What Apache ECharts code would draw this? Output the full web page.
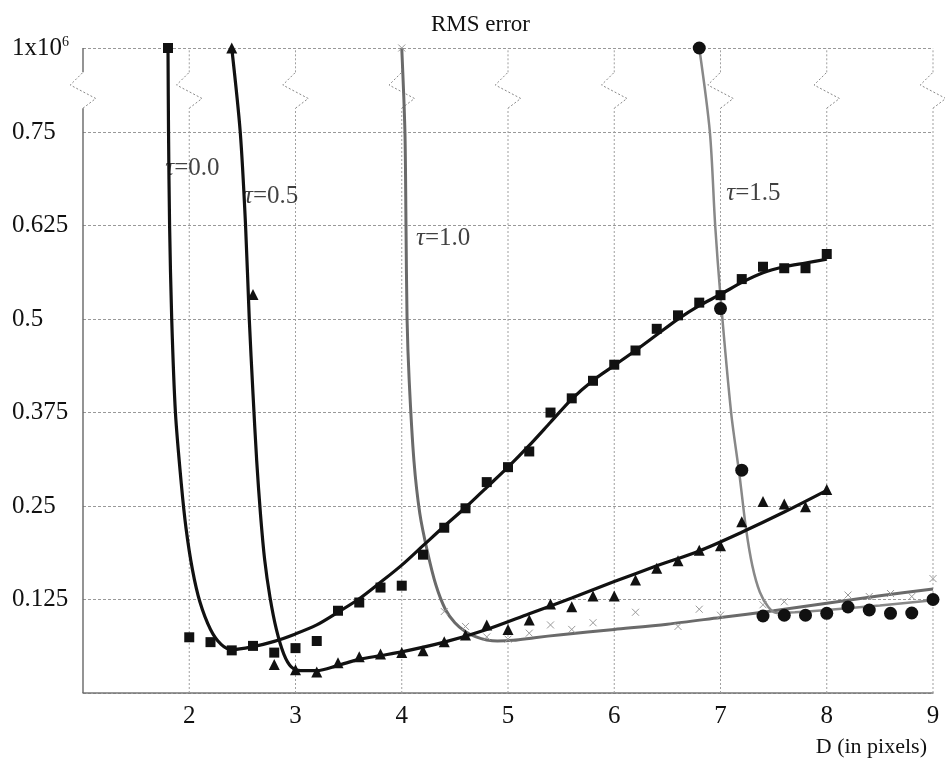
<!DOCTYPE html>
<html><head><meta charset="utf-8">
<script src="https://cdn.jsdelivr.net/npm/echarts@6/dist/echarts.min.js"></script>
<style>html,body{margin:0;padding:0;background:#fff}#c{width:945px;height:762px}</style>
</head><body><div id="c"></div>
<script>
// Position on the broken axis that stands for the value 1x10^6
const TOP = 0.8625;

// Axis ticks
const xTicks = [2, 3, 4, 5, 6, 7, 8, 9];
const gridXs = [1, 2, 3, 4, 5, 6, 7, 8, 9];
const yTickValues = [0.125, 0.25, 0.375, 0.5, 0.625, 0.75];
const yTickLabels = ['0.125', '0.25', '0.375', '0.5', '0.625', '0.75'];

// tau = 0.0 : squares + fitted curve
const sqX = [1.8, 2.0, 2.2, 2.4, 2.6, 2.8, 3.0, 3.2, 3.4, 3.6, 3.8, 4.0, 4.2, 4.4, 4.6, 4.8, 5.0, 5.2, 5.4, 5.6, 5.8, 6.0, 6.2, 6.4, 6.6, 6.8, 7.0, 7.2, 7.4, 7.6, 7.8, 8.0];
const sqY = [TOP, 0.0745, 0.068, 0.057, 0.063, 0.054, 0.060, 0.0695, 0.110, 0.121, 0.141, 0.1435, 0.185, 0.221, 0.247, 0.282, 0.302, 0.323, 0.375, 0.394, 0.4175, 0.439, 0.458, 0.487, 0.505, 0.522, 0.532, 0.5535, 0.570, 0.568, 0.568, 0.587];
const curve0 = [[1.80, TOP], [1.805, 0.75], [1.815, 0.625], [1.835, 0.5], [1.87, 0.375], [1.925, 0.28], [1.97, 0.22], [2.03, 0.165], [2.10, 0.122], [2.2, 0.085], [2.3, 0.065], [2.4, 0.058], [2.6, 0.062], [2.8, 0.069], [3.0, 0.079], [3.2, 0.091], [3.4, 0.108], [3.6, 0.126], [3.8, 0.148], [4.0, 0.171], [4.2, 0.197], [4.4, 0.223], [4.6, 0.248], [4.8, 0.275], [5.0, 0.302], [5.2, 0.331], [5.4, 0.362], [5.6, 0.393], [5.8, 0.418], [6.0, 0.438], [6.2, 0.458], [6.4, 0.479], [6.6, 0.500], [6.8, 0.518], [7.0, 0.533], [7.2, 0.549], [7.4, 0.562], [7.6, 0.570], [7.8, 0.575], [8.0, 0.580]];

// tau = 0.5 : triangles + fitted curve
const triX = [2.4, 2.6, 2.8, 3.0, 3.2, 3.4, 3.6, 3.8, 4.0, 4.2, 4.4, 4.6, 4.8, 5.0, 5.2, 5.4, 5.6, 5.8, 6.0, 6.2, 6.4, 6.6, 6.8, 7.0, 7.2, 7.4, 7.6, 7.8, 8.0];
const triY = [TOP, 0.533, 0.038, 0.031, 0.028, 0.0405, 0.0485, 0.052, 0.054, 0.0566, 0.0686, 0.0775, 0.091, 0.085, 0.0976, 0.119, 0.1154, 0.1297, 0.1297, 0.151, 0.1667, 0.177, 0.191, 0.197, 0.229, 0.256, 0.2527, 0.249, 0.272];
const curve05 = [[2.40, TOP], [2.48, 0.75], [2.53, 0.625], [2.565, 0.5], [2.60, 0.40], [2.635, 0.31], [2.67, 0.24], [2.71, 0.178], [2.76, 0.128], [2.82, 0.085], [2.89, 0.052], [2.96, 0.035], [3.05, 0.030], [3.2, 0.030], [3.4, 0.037], [3.6, 0.045], [3.8, 0.050], [4.0, 0.055], [4.4, 0.068], [4.8, 0.085], [5.2, 0.106], [5.6, 0.127], [6.0, 0.149], [6.4, 0.170], [6.8, 0.190], [7.2, 0.215], [7.6, 0.242], [8.0, 0.271]];

// tau = 1.0 : small crosses + fitted curve
const xmX = [4.0, 4.4, 4.6, 4.8, 5.0, 5.2, 5.4, 5.6, 5.8, 6.2, 6.6, 6.8, 7.0, 7.4, 7.6, 8.2, 8.4, 8.6, 8.8, 9.0];
const xmY = [TOP, 0.109, 0.089, 0.075, 0.072, 0.080, 0.091, 0.085, 0.094, 0.108, 0.089, 0.112, 0.104, 0.118, 0.122, 0.131, 0.129, 0.133, 0.129, 0.153];
const curve10 = [[4.0, TOP], [4.03, 0.75], [4.04, 0.625], [4.05, 0.5], [4.07, 0.418], [4.115, 0.31], [4.17, 0.24], [4.24, 0.19], [4.32, 0.145], [4.41, 0.112], [4.5, 0.094], [4.6, 0.082], [4.7, 0.075], [4.8, 0.071], [4.9, 0.0695], [5.05, 0.0705], [5.25, 0.074], [5.5, 0.078], [6.0, 0.085], [6.5, 0.092], [7.0, 0.101], [7.5, 0.110], [8.0, 0.120], [8.5, 0.130], [9.0, 0.139]];

// tau = 1.5 : circles + fitted curve
const cirX = [6.8, 7.0, 7.2, 7.4, 7.6, 7.8, 8.0, 8.2, 8.4, 8.6, 8.8, 9.0];
const cirY = [TOP, 0.514, 0.298, 0.103, 0.104, 0.104, 0.1066, 0.115, 0.111, 0.1066, 0.107, 0.125];
const curve15 = [[6.8, TOP], [6.9, 0.75], [6.95, 0.625], [7.0, 0.53], [7.1, 0.375], [7.18, 0.29], [7.24, 0.22], [7.3, 0.17], [7.37, 0.135], [7.45, 0.115], [7.53, 0.107], [7.7, 0.108], [8.0, 0.111], [8.5, 0.117], [9.0, 0.124]];

// Curve labels
const tauLabels = [[1.77, 0.702, '0.0'], [2.51, 0.664, '0.5'], [4.13, 0.608, '1.0'], [7.05, 0.668, '1.5']];

// Axis break geometry (data units)
const BRK_LO = 0.782, BRK_A = 0.795, BRK_B = 0.813, BRK_HI = 0.830, BRK_DX = 0.12;

const FONT = '"Liberation Serif", "Times New Roman", serif';
const zip = (xs, ys) => xs.map((x, i) => [x, ys[i]]);

const chart = echarts.init(document.getElementById('c'), null, {renderer: 'canvas'});
chart.setOption({
  animation: false,
  backgroundColor: '#fff',
  title: [
    {text: 'RMS error', left: 426, top: 8, textStyle: {fontFamily: FONT, fontSize: 23, fontWeight: 'normal', color: '#111'}},
    {text: 'D (in pixels)', right: 13, top: 731, textStyle: {fontFamily: FONT, fontSize: 22, fontWeight: 'normal', color: '#111'}}
  ],
  grid: {left: 83, right: 12, top: 48, bottom: 69, containLabel: false},
  xAxis: {
    type: 'value', min: 1, max: 9, interval: 1,
    axisLine: {show: true, lineStyle: {color: '#777', width: 1.5}},
    axisTick: {show: false},
    splitLine: {show: false},
    axisLabel: {
      margin: 11, fontFamily: FONT, fontSize: 25, color: '#111',
      formatter: v => (xTicks.indexOf(v) >= 0 ? String(v) : '')
    }
  },
  yAxis: {
    type: 'value', min: 0, max: TOP, interval: 0.125,
    axisLine: {show: false},
    axisTick: {show: false},
    splitLine: {show: true, lineStyle: {color: '#999', type: [3, 2], width: 1}},
    axisLabel: {
      align: 'left', margin: 71, fontFamily: FONT, fontSize: 25, color: '#111',
      formatter: v => {
        if (Math.abs(v - TOP) < 1e-6) return '1x10{s|6}';
        const i = yTickValues.findIndex(t => Math.abs(t - v) < 1e-6);
        return i >= 0 ? yTickLabels[i] : '';
      },
      rich: {s: {fontFamily: FONT, fontSize: 14, color: '#111', padding: [0, 0, 11, 0]}}
    }
  },
  series: [
    {
      type: 'custom', silent: true, clip: false, z: 1,
      data: gridXs.map(x => [x, 0]),
      renderItem: function (params, api) {
        const x = api.value(0);
        const c = (a, b) => api.coord([a, b]);
        const solid = x === 1;
        const st = {stroke: solid ? '#666' : '#a0a0a0', lineWidth: solid ? 1.4 : 1, lineDash: solid ? null : [2, 2], fill: null};
        return {
          type: 'group',
          children: [
            {type: 'polyline', shape: {points: [c(x, 0), c(x, BRK_LO)]}, style: st},
            {type: 'polyline', shape: {points: [c(x, BRK_HI), c(x, TOP)]}, style: st},
            {type: 'polyline', shape: {points: [c(x, BRK_LO), c(x + BRK_DX, BRK_A), c(x - BRK_DX, BRK_B), c(x, BRK_HI)]},
              style: {stroke: '#888', lineWidth: 1, lineDash: [2, 2], fill: null}}
          ]
        };
      }
    },
    {type: 'line', data: curve10, smooth: 0.3, showSymbol: false, lineStyle: {color: '#6a6a6a', width: 3}, z: 3},
    {type: 'line', data: curve15, smooth: 0.3, showSymbol: false, lineStyle: {color: '#888', width: 2.5}, z: 3},
    {type: 'line', data: curve0, smooth: 0.3, showSymbol: false, lineStyle: {color: '#111', width: 3.2}, z: 4},
    {type: 'line', data: curve05, smooth: 0.3, showSymbol: false, lineStyle: {color: '#111', width: 3.2}, z: 4},
    {type: 'scatter', data: zip(xmX, xmY), symbol: 'path://M0,0L10,10M10,0L0,10', symbolSize: 7,
      itemStyle: {color: 'rgba(0,0,0,0)', borderColor: '#999', borderWidth: 1, opacity: 1}, z: 5},
    {type: 'scatter', data: zip(sqX, sqY), symbol: 'rect', symbolSize: 10, itemStyle: {color: '#111', opacity: 1}, z: 6},
    {type: 'scatter', data: zip(triX, triY), symbol: 'triangle', symbolSize: 11, itemStyle: {color: '#111', opacity: 1}, z: 6},
    {type: 'scatter', data: zip(cirX, cirY), symbol: 'circle', symbolSize: 13, itemStyle: {color: '#111', opacity: 1}, z: 6},
    {
      type: 'scatter', data: tauLabels, symbolSize: 1, itemStyle: {color: 'rgba(0,0,0,0)'}, silent: true, z: 7,
      label: {
        show: true, position: 'right', distance: 0,
        formatter: p => '{t|τ}=' + p.data[2],
        fontFamily: FONT, fontSize: 25, color: '#111',
        rich: {t: {fontFamily: FONT, fontSize: 25, fontStyle: 'italic', color: '#111'}}
      }
    }
  ]
});
</script>
</body></html>
